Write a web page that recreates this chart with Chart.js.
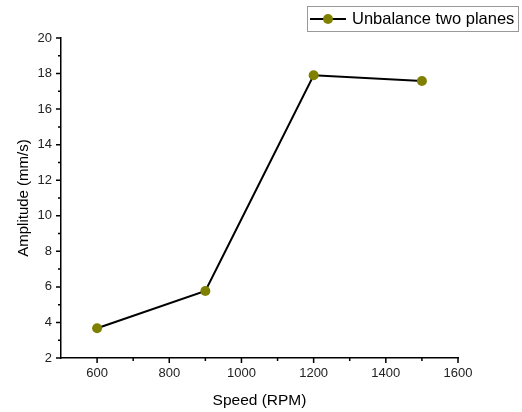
<!DOCTYPE html>
<html lang="en">
  <head>
    <meta charset="UTF-8" />
    <title>Unbalance two planes</title>
    <script src="https://cdn.jsdelivr.net/npm/chart.js@4/dist/chart.umd.min.js"></script>
    <style>
      html, body { margin: 0; padding: 0; background: #fff; }
      #wrap { position: relative; width: 522px; height: 412px; }
    </style>
  </head>
  <body>
    <div id="wrap"><canvas id="chart" width="522" height="412"></canvas></div>

    <script>
      // Data
      const speeds = [600, 900, 1200, 1500];
      const amplitude = [3.67, 5.77, 17.9, 17.58];
      const seriesName = "Unbalance two planes";

      // Axis ticks
      const xMajor = [600, 800, 1000, 1200, 1400, 1600];
      const xMinor = [700, 900, 1100, 1300, 1500];
      const yMajor = [2, 4, 6, 8, 10, 12, 14, 16, 18, 20];
      const yMinor = [3, 5, 7, 9, 11, 13, 15, 17, 19];

      const font = "'Liberation Sans', Arial, sans-serif";
      const markerColor = "#808000";

      // Origin-style outward tick marks + boxed legend
      const extras = {
        id: "extras",
        afterDraw(chart) {
          const { ctx, chartArea, scales } = chart;
          const x = scales.x, y = scales.y;
          ctx.save();
          ctx.strokeStyle = "#000";
          ctx.lineWidth = 1.5;
          ctx.beginPath();
          xMajor.forEach((v) => {
            const px = x.getPixelForValue(v);
            ctx.moveTo(px, chartArea.bottom);
            ctx.lineTo(px, chartArea.bottom + 5);
          });
          xMinor.forEach((v) => {
            const px = x.getPixelForValue(v);
            ctx.moveTo(px, chartArea.bottom);
            ctx.lineTo(px, chartArea.bottom + 3);
          });
          yMajor.forEach((v) => {
            const py = y.getPixelForValue(v);
            ctx.moveTo(chartArea.left, py);
            ctx.lineTo(chartArea.left - 5, py);
          });
          yMinor.forEach((v) => {
            const py = y.getPixelForValue(v);
            ctx.moveTo(chartArea.left, py);
            ctx.lineTo(chartArea.left - 3, py);
          });
          ctx.stroke();

          // legend box
          ctx.lineWidth = 1;
          ctx.strokeStyle = "#999";
          ctx.strokeRect(307.5, 6.5, 211, 25);
          ctx.strokeStyle = "#000";
          ctx.lineWidth = 2;
          ctx.beginPath();
          ctx.moveTo(310, 19);
          ctx.lineTo(346, 19);
          ctx.stroke();
          ctx.fillStyle = markerColor;
          ctx.beginPath();
          ctx.arc(328, 19, 5, 0, Math.PI * 2);
          ctx.fill();
          ctx.fillStyle = "#000";
          ctx.font = "16.5px " + font;
          ctx.textBaseline = "middle";
          ctx.fillText(seriesName, 352, 19);
          ctx.restore();
        },
      };

      new Chart(document.getElementById("chart"), {
        type: "line",
        data: {
          datasets: [
            {
              label: seriesName,
              data: speeds.map((s, i) => ({ x: s, y: amplitude[i] })),
              borderColor: "#000",
              borderWidth: 2,
              pointBackgroundColor: markerColor,
              pointBorderColor: markerColor,
              pointRadius: 5,
              pointBorderWidth: 0,
              tension: 0,
            },
          ],
        },
        options: {
          responsive: false,
          animation: false,
          layout: { padding: { left: 0, right: 64, top: 38, bottom: 0 } },
          plugins: { legend: { display: false }, tooltip: { enabled: false } },
          scales: {
            x: {
              type: "linear",
              min: 500,
              max: 1600,
              afterBuildTicks: (s) => { s.ticks = xMajor.map((v) => ({ value: v })); },
              afterFit: (s) => { s.height = 54; },
              grid: { display: false, drawTicks: false },
              border: { display: true, color: "#000", width: 1.5 },
              ticks: {
                padding: 8,
                color: "#222",
                font: { family: font, size: 13 },
                maxRotation: 0,
                callback: (v) => String(v),
              },
              title: {
                display: true,
                text: "Speed (RPM)",
                color: "#000",
                font: { family: font, size: 15.5 },
                padding: { top: 0, bottom: 2 },
              },
            },
            y: {
              min: 2,
              max: 20,
              afterBuildTicks: (s) => { s.ticks = yMajor.map((v) => ({ value: v })); },
              afterFit: (s) => { s.width = 61; },
              grid: { display: false, drawTicks: false },
              border: { display: true, color: "#000", width: 1.5 },
              ticks: {
                padding: 9,
                color: "#222",
                font: { family: font, size: 13 },
                callback: (v) => String(v),
              },
              title: {
                display: true,
                text: "Amplitude (mm/s)",
                color: "#000",
                font: { family: font, size: 15 },
                padding: { top: 15, bottom: 0 },
              },
            },
          },
        },
        plugins: [extras],
      });
    </script>
  </body>
</html>
